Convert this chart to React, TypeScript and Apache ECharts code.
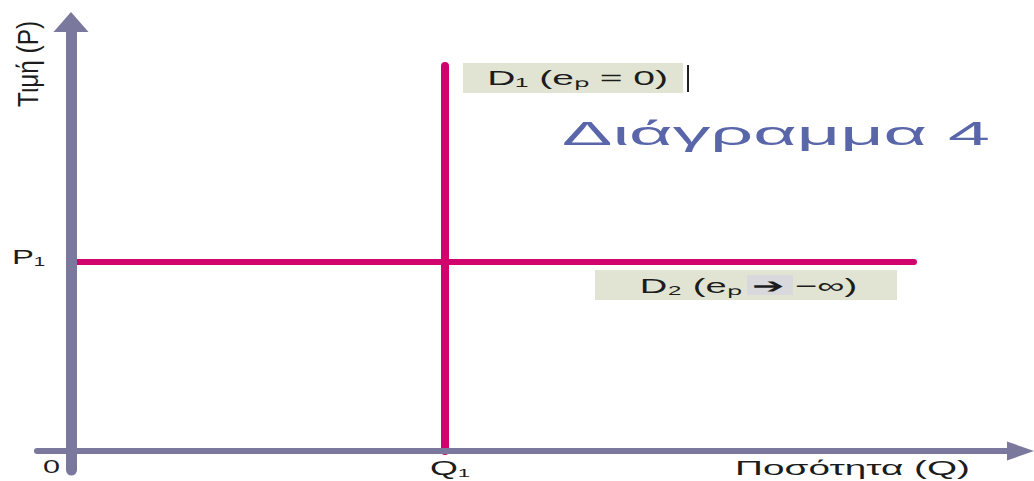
import React, { useEffect, useRef } from "react";
import * as echarts from "echarts";

// Axis extents (chart units)
const X_RANGE = [-3.4, 94.95];
const Y_RANGE = [-1.9, 42.9];

// Quantities
const Q1 = 37.4; // perfectly inelastic demand D1 at Q1
const D1_TOP = 38.5; // top of D1
const P1 = 18.9; // perfectly elastic demand D2 at P1
const D2_END = 84.3; // right end of D2

const D1_POINTS = [
  [Q1, 0],
  [Q1, D1_TOP],
];
const D2_POINTS = [
  [0, P1],
  [D2_END, P1],
];

const TITLE = "Διάγραμμα 4";
const X_NAME = "Ποσότητα (Q)";
const Y_NAME = "Τιμή (P)";
const ORIGIN_LABEL = "0";
const Q_LABEL = "Q₁";
const P_LABEL = "P₁";
const D1_LABEL = "D₁ (eₚ = 0)";
const D2_LABEL = "D₂ (eₚ ➔ −∞)";

const AXIS_COLOR = "#7a789c";
const PINK = "#d0046c";
const FONT = '"Liberation Sans", Arial, sans-serif';

function measure(text: string, size: number): number {
  const c = document.createElement("canvas").getContext("2d");
  if (!c) return text.length * size * 0.55;
  c.font = `${size}px ${FONT}`;
  return c.measureText(text).width;
}

function txt(
  text: string,
  cx: number,
  cy: number,
  size: number,
  targetWidth: number,
  stretchY: number,
  fill: string,
  rotation = 0
) {
  const w = measure(text, size);
  return {
    type: "text",
    x: cx,
    y: cy,
    rotation,
    scaleX: targetWidth / w,
    scaleY: stretchY,
    z: 20,
    style: {
      text,
      fill,
      fontSize: size,
      fontFamily: FONT,
      align: "center",
      verticalAlign: "middle",
    },
  };
}

export default function App() {
  const ref = useRef<HTMLDivElement>(null);

  useEffect(() => {
    if (!ref.current) return;
    const chart = echarts.init(ref.current, null, { renderer: "svg" });
    chart.setOption({
      animation: false,
      backgroundColor: "#ffffff",
      grid: { left: 37, right: 13.5, top: 22, bottom: 11, containLabel: false },
      xAxis: {
        type: "value",
        min: X_RANGE[0],
        max: X_RANGE[1],
        z: 5,
        axisLine: {
          show: true,
          onZero: true,
          symbol: ["none", "triangle"],
          symbolSize: [19, 27],
          lineStyle: { color: AXIS_COLOR, width: 6 },
        },
        axisTick: { show: false },
        axisLabel: { show: false },
        splitLine: { show: false },
      },
      yAxis: {
        type: "value",
        min: Y_RANGE[0],
        max: Y_RANGE[1],
        z: 5,
        axisLine: {
          show: true,
          onZero: true,
          symbol: ["none", "triangle"],
          symbolSize: [35, 20],
          lineStyle: { color: AXIS_COLOR, width: 11 },
        },
        axisTick: { show: false },
        axisLabel: { show: false },
        splitLine: { show: false },
      },
      series: [
        {
          name: "D1",
          type: "line",
          data: D1_POINTS,
          symbol: "none",
          lineStyle: { color: PINK, width: 8, cap: "round" },
        },
        {
          name: "D2",
          type: "line",
          data: D2_POINTS,
          symbol: "none",
          lineStyle: { color: PINK, width: 6, cap: "round" },
        },
      ],
    });

    const o = chart.convertToPixel({ gridIndex: 0 }, [0, 0]) as number[];
    const q = chart.convertToPixel({ gridIndex: 0 }, [Q1, 0]) as number[];
    const p = chart.convertToPixel({ gridIndex: 0 }, [0, P1]) as number[];
    const d1 = chart.convertToPixel({ gridIndex: 0 }, [Q1, D1_TOP]) as number[];
    const d2 = chart.convertToPixel({ gridIndex: 0 }, [D2_END, P1]) as number[];

    chart.setOption({
      graphic: [
        // D1 label box
        {
          type: "rect",
          z: 15,
          shape: { x: d1[0] + 18, y: d1[1] - 3, width: 220, height: 30 },
          style: { fill: "#e1e4d2" },
        },
        {
          type: "rect",
          z: 15,
          shape: { x: d1[0] + 242, y: d1[1] - 1, width: 2, height: 27 },
          style: { fill: "#222222" },
        },
        txt(D1_LABEL, d1[0] + 132.5, d1[1] + 12, 18, 181, 1.15, "#1c1c1c"),
        // D2 label box
        {
          type: "rect",
          z: 15,
          shape: { x: d2[0] - 319, y: d2[1] + 8, width: 302, height: 30 },
          style: { fill: "#e1e4d2" },
        },
        {
          type: "rect",
          z: 16,
          shape: { x: d2[0] - 167, y: d2[1] + 13, width: 46, height: 20 },
          style: { fill: "#d9d9dd" },
        },
        txt(D2_LABEL, d2[0] - 165.5, d2[1] + 24, 18, 217, 1.15, "#1c1c1c"),
        // Axis point labels
        txt(ORIGIN_LABEL, o[0] - 19.5, o[1] + 15, 18, 17, 1.05, "#1c1c1c"),
        txt(Q_LABEL, q[0] + 5, o[1] + 17, 18, 40, 1.1, "#1c1c1c"),
        txt(P_LABEL, 28.5, p[1] - 5, 18, 33, 1.15, "#1c1c1c"),
        // Axis names
        txt(X_NAME, 852.5, o[1] + 17, 18, 235, 1.1, "#1c1c1c"),
        txt(Y_NAME, 28, 64, 17, 86, 1.7, "#1c1c1c", Math.PI / 2),
        // Title
        txt(TITLE, 776, 133.5, 32, 428, 1.05, "#5a66aa"),
      ],
    });

    return () => chart.dispose();
  }, []);

  return (
    <div
      ref={ref}
      style={{ position: "fixed", left: 0, top: 0, width: 1034, height: 481 }}
    />
  );
}
